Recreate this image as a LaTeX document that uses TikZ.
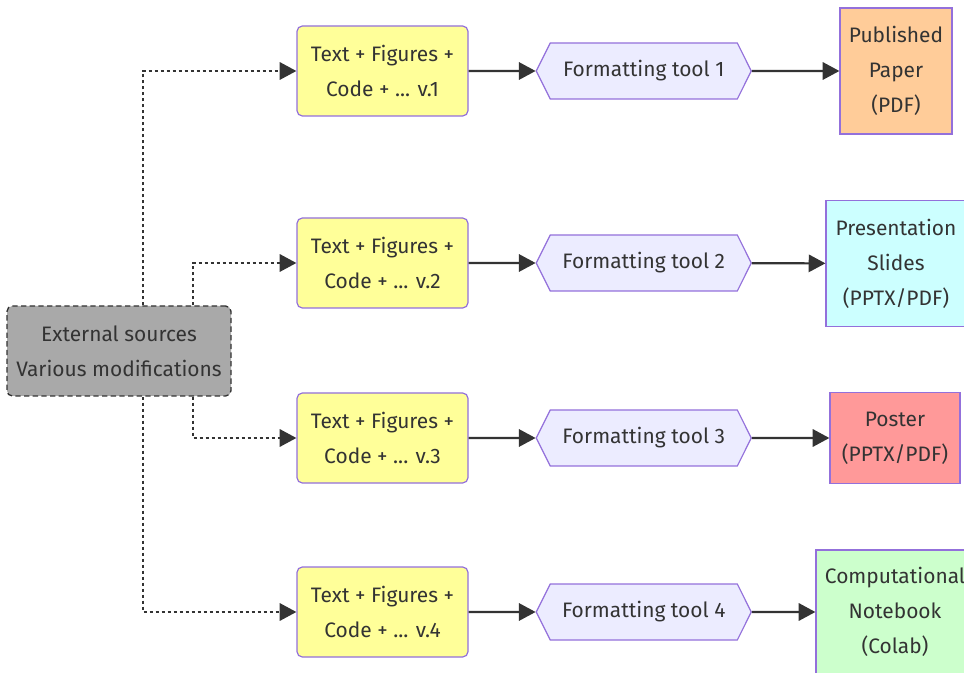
\documentclass[tikz,border=0pt]{standalone}
\usepackage{fontspec}
\setmainfont{Fira Sans}
\usetikzlibrary{positioning,arrows.meta,shapes.symbols}
\usepackage{xcolor}
\definecolor{ink}{HTML}{333333}
\definecolor{edge}{HTML}{9370DB}
\definecolor{srcgray}{HTML}{A9A9A9}
\definecolor{draftfill}{HTML}{FFFF99}
\definecolor{toolfill}{HTML}{ECECFF}
\definecolor{paperfill}{HTML}{FFCC99}
\definecolor{slidesfill}{HTML}{CCFFFF}
\definecolor{posterfill}{HTML}{FF9999}
\definecolor{notebookfill}{HTML}{CCFFCC}

\begin{document}
\begin{tikzpicture}[
  x=0.75pt, y=-0.75pt,
  every node/.style={text=ink, font=\fontsize{15.7}{26.25}\selectfont, align=center, inner sep=0pt},
  srcbox/.style={draw=ink, dashed, dash pattern=on 4pt off 2.5pt, line width=1pt, fill=srcgray, rounded corners=4pt, minimum width=168pt, minimum height=67.5pt},
  draft/.style={draw=edge, line width=0.9pt, fill=draftfill, rounded corners=4pt, minimum width=128.25pt, minimum height=67.5pt},
  fmt/.style={signal, signal to=west and east, signal pointer angle=127, draw=edge, line width=0.9pt, fill=toolfill, minimum width=161.25pt, minimum height=42pt},
  outbox/.style={draw=edge, line width=0.9pt},
  arr/.style={-{Triangle[length=12.5pt, width=13pt]}, line width=1.6pt, draw=ink},
  dotarr/.style={-{Triangle[length=12.5pt, width=13pt]}, line width=1.6pt, draw=ink, dash pattern=on 2.25pt off 2.25pt}
]
\useasboundingbox (0,0) rectangle (964,673);

\node[srcbox] (ext) at (119,351) {External sources\\Various modifications};

\node[draft] (d1) at (382.5,71) {Text + Figures +\\Code + ... v.1};
\node[draft] (d2) at (382.5,263) {Text + Figures +\\Code + ... v.2};
\node[draft] (d3) at (382.5,438) {Text + Figures +\\Code + ... v.3};
\node[draft] (d4) at (382.5,612) {Text + Figures +\\Code + ... v.4};

\node[fmt, right=50.25pt of d1] (f1) {Formatting tool 1};
\node[fmt, right=50.25pt of d2] (f2) {Formatting tool 2};
\node[fmt, right=50.25pt of d3] (f3) {Formatting tool 3};
\node[fmt, right=50.25pt of d4] (f4) {Formatting tool 4};

\node[outbox, fill=paperfill, minimum width=84pt, minimum height=94.5pt] (o1) at (896,71) {Published\\Paper\\(PDF)};
\node[outbox, fill=slidesfill, minimum width=105pt, minimum height=94pt] (o2) at (896,263.5) {Presentation\\Slides\\(PPTX/PDF)};
\node[outbox, fill=posterfill, minimum width=97.5pt, minimum height=68pt] (o3) at (895,438) {Poster\\(PPTX/PDF)};
\node[outbox, fill=notebookfill, minimum width=118.5pt, minimum height=93pt] (o4) at (895,612) {Computational\\Notebook\\(Colab)};

% dotted links from the sources
\draw[dotarr] ([xshift=18pt]ext.north) |- (d1);
\draw[dotarr] ([xshift=55.5pt]ext.north) |- (d2);
\draw[dotarr] ([xshift=55.5pt]ext.south) |- (d3);
\draw[dotarr] ([xshift=18pt]ext.south) |- (d4);

\draw[arr] (d1) -- (f1);
\draw[arr] (d2) -- (f2);
\draw[arr] (d3) -- (f3);
\draw[arr] (d4) -- (f4);

\draw[arr] (f1) -- (o1);
\draw[arr] (f2) -- (o2);
\draw[arr] (f3) -- (o3);
\draw[arr] (f4) -- (o4);
\end{tikzpicture}
\end{document}
